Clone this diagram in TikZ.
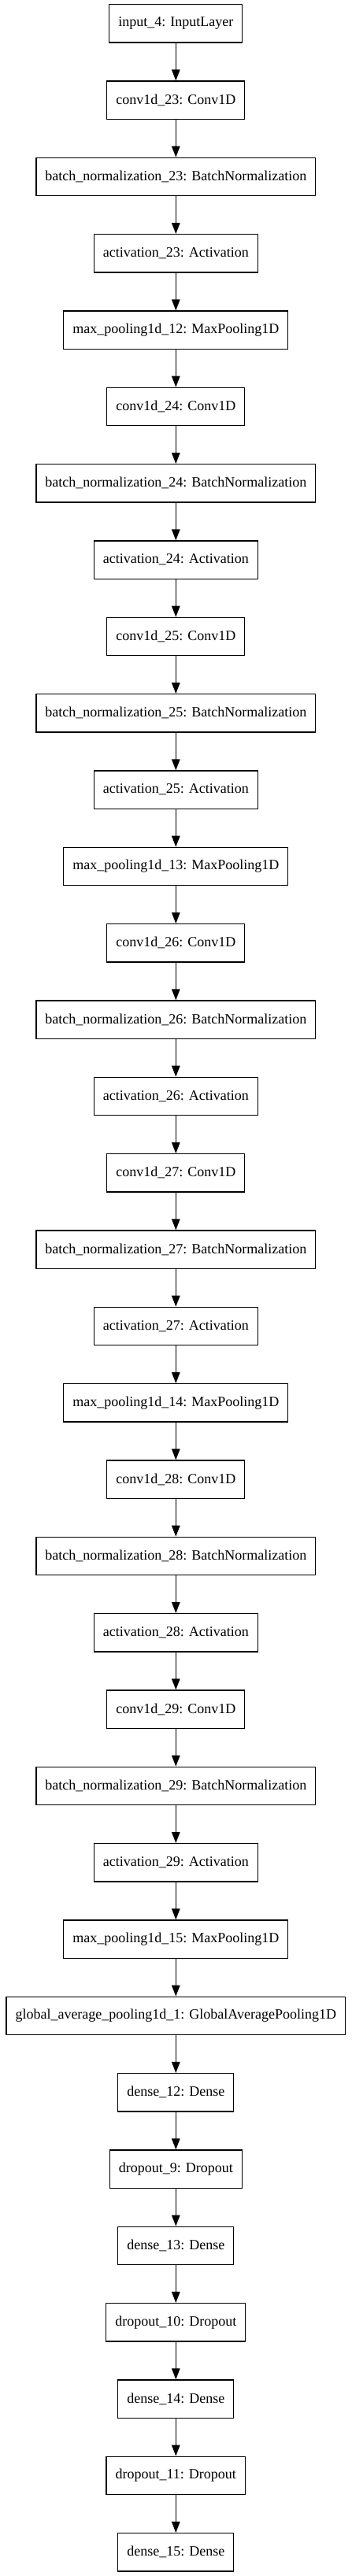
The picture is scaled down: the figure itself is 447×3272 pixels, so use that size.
\documentclass[tikz,border=0pt]{standalone}
\usepackage{fontspec}
\setmainfont{Liberation Serif}
\usetikzlibrary{arrows.meta}

\tikzset{
  layer/.style={draw,line width=1.3pt,rectangle,minimum height=48.3pt,inner xsep=11.5pt,
    font=\fontsize{18}{20}\selectfont},
  flow/.style={-{Triangle[length=14pt,width=10.5pt]},line width=1.3pt}
}

\begin{document}
\begin{tikzpicture}[x=1pt,y=-1pt]
  \useasboundingbox (0,0) rectangle (447,3272);
  \foreach \t [count=\i from 0] in {
    {input\_4: InputLayer},
    {conv1d\_23: Conv1D},
    {batch\_normalization\_23: BatchNormalization},
    {activation\_23: Activation},
    {max\_pooling1d\_12: MaxPooling1D},
    {conv1d\_24: Conv1D},
    {batch\_normalization\_24: BatchNormalization},
    {activation\_24: Activation},
    {conv1d\_25: Conv1D},
    {batch\_normalization\_25: BatchNormalization},
    {activation\_25: Activation},
    {max\_pooling1d\_13: MaxPooling1D},
    {conv1d\_26: Conv1D},
    {batch\_normalization\_26: BatchNormalization},
    {activation\_26: Activation},
    {conv1d\_27: Conv1D},
    {batch\_normalization\_27: BatchNormalization},
    {activation\_27: Activation},
    {max\_pooling1d\_14: MaxPooling1D},
    {conv1d\_28: Conv1D},
    {batch\_normalization\_28: BatchNormalization},
    {activation\_28: Activation},
    {conv1d\_29: Conv1D},
    {batch\_normalization\_29: BatchNormalization},
    {activation\_29: Activation},
    {max\_pooling1d\_15: MaxPooling1D},
    {global\_average\_pooling1d\_1: GlobalAveragePooling1D},
    {dense\_12: Dense},
    {dropout\_9: Dropout},
    {dense\_13: Dense},
    {dropout\_10: Dropout},
    {dense\_14: Dense},
    {dropout\_11: Dropout},
    {dense\_15: Dense}}
    \node[layer] (n\i) at (223.3,29.85+97.33*\i) {\t};
  % edges
  \foreach \j [remember=\j as \i (initially 0)] in {1,...,33}
    \draw[flow] (n\i) -- (n\j);
\end{tikzpicture}
\end{document}
